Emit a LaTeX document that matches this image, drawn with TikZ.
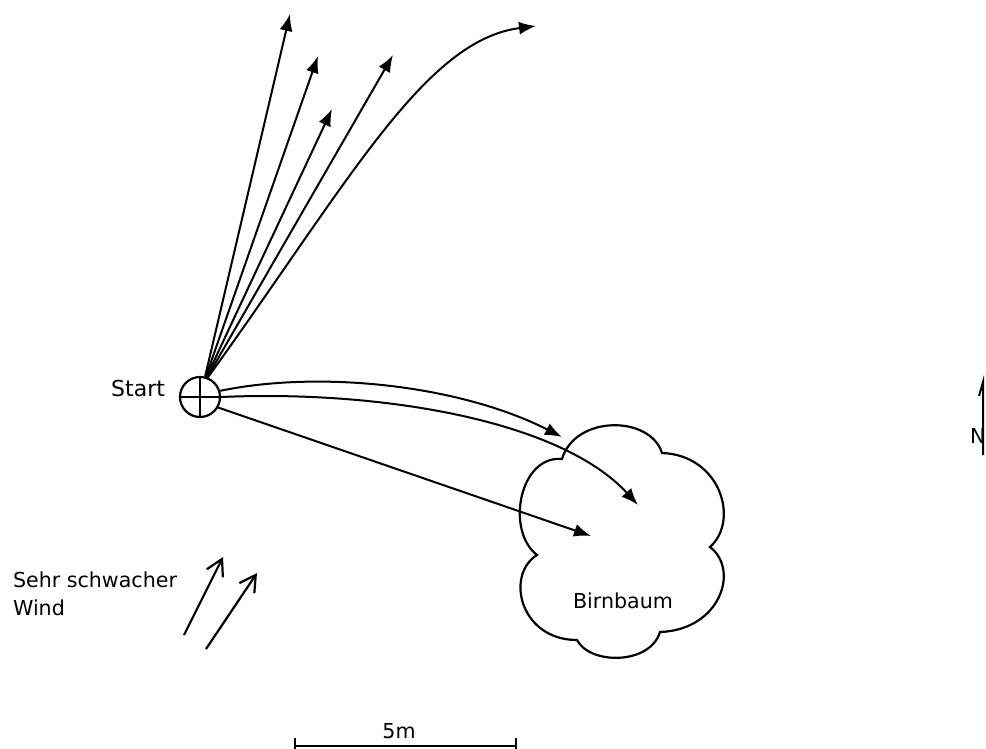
\documentclass[tikz,border=0pt]{standalone}
\usepackage{fontspec}
\setmainfont{DejaVu Sans}
\usetikzlibrary{arrows.meta}

\begin{document}
\begin{tikzpicture}[x=0.5pt,y=-0.5pt]
            \useasboundingbox (0,0) rectangle (986,749);
            \begin{scope}[every node/.style={font=\fontsize{10.3}{14}\selectfont}]
                \node[circle,draw,line width=1.1pt,minimum size=20pt,inner sep=0pt] (start) at (200,397) {};
                \node[anchor=east,font=\fontsize{11}{14}\selectfont] (startlbl) at (172,388) {Start};
                \node (baum) at (623,601) {Birnbaum};
                \node[anchor=west,align=left] (wind) at (6,594) {Sehr schwacher\\Wind};
                \node (scale) at (399,731) {5m};
                \node[anchor=east,inner sep=0pt] (north) at (986,436) {N};
            \end{scope}

            % end points of the flights
            \coordinate (f1) at (290,14);
            \coordinate (f2) at (318,56);
            \coordinate (f3) at (332,109);
            \coordinate (f4) at (393,55);
            \coordinate (f5) at (536,26);
            \coordinate (b1) at (562,437);
            \coordinate (b2) at (638,505);
            \coordinate (b3) at (591,536);

            \draw[line width=0.6pt] (start.north) -- (start.south) (start.west) -- (start.east);

            % Birnbaum
            \draw[line width=1.1pt] (562,459) .. controls (575,415) and (650,415) .. (662,453)
                .. controls (720,455) and (740,520) .. (710,547)
                .. controls (740,570) and (720,630) .. (660,632)
                .. controls (650,665) and (590,665) .. (577,640)
                .. controls (520,640) and (505,575) .. (537,555)
                .. controls (505,530) and (520,455) .. (562,459) -- cycle;

            \begin{scope}[>={Latex[length=8.5pt,width=6.5pt]},
                          every path/.style={line width=1pt}]
                \draw[->] (start.76) -- (f1);
                \draw[->] (start.74) -- (f2);
                \draw[->] (start.72) -- (f3);
                \draw[->] (start.70) -- (f4);
                \draw[->] (start.68) .. controls (350,180) and (425,40) .. (f5);
                \draw[->] (start.17) .. controls (320,370) and (460,385) .. (b1);
                \draw[->] (start.0) .. controls (380,390) and (560,420) .. (b2);
                \draw[->] (start.-30) -- (b3);
            \end{scope}

            % Wind
            \coordinate (w1a) at (184,635);
            \coordinate (w1b) at (223,557);
            \coordinate (w2a) at (206,649);
            \coordinate (w2b) at (257,573);
            \begin{scope}[>={Straight Barb[length=8pt,width=9pt]},
                          every path/.style={line width=1.1pt}]
                \draw[->] (w1a) -- (w1b);
                \draw[->] (w2a) -- (w2b);
            \end{scope}

            % Nordpfeil
            \coordinate (n1) at (983,455);
            \coordinate (n2) at (983,382);
            \coordinate (n3) at (979,396);
            \draw[line width=1pt] (n1) -- (n2) -- (n3);

            % Massstab
            \coordinate (m1) at (295,746);
            \coordinate (m2) at (516,746);
            \draw[line width=1.1pt] (m1) -- (m2);
            \draw[line width=1.1pt] ([yshift=-2pt]m1) -- ([yshift=4pt]m1)
                                  ([yshift=-2pt]m2) -- ([yshift=4pt]m2);
\end{tikzpicture}
\end{document}
